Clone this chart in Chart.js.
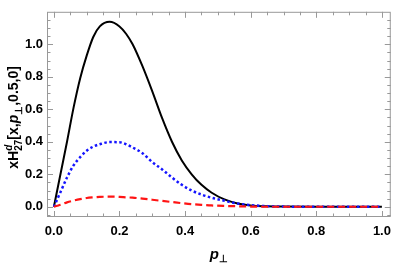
<!DOCTYPE html>
<html>
<head>
<meta charset="utf-8">
<script src="https://cdn.jsdelivr.net/npm/chart.js@4.4.1/dist/chart.umd.min.js"></script>
<style>
  body { margin: 0; background: #fff; }
  #wrap { width: 398px; height: 264px; position: relative; }
</style>
</head>
<body>
<div id="wrap"><canvas id="chart"></canvas></div>
<script>
// p_perp sample points
const pValues = [0, 0.01, 0.02, 0.04, 0.06, 0.08, 0.10, 0.12, 0.14, 0.17, 0.20, 0.22, 0.24, 0.27, 0.30,
    0.33, 0.36, 0.39, 0.42, 0.45, 0.48, 0.52, 0.56, 0.60, 0.65, 0.70, 0.80, 0.90, 1.00];
const blackValues = [0, 0.10, 0.20, 0.40, 0.61, 0.79, 0.93, 1.045, 1.11, 1.138, 1.11, 1.065, 1.0, 0.865, 0.71,
    0.545, 0.40, 0.285, 0.20, 0.135, 0.088, 0.045, 0.02, 0.008, 0.003, 0.001, 0, 0, 0];
const blueValues = [0, 0.045, 0.09, 0.18, 0.255, 0.305, 0.345, 0.37, 0.385, 0.398, 0.397, 0.385, 0.365, 0.33, 0.275,
    0.23, 0.18, 0.135, 0.10, 0.075, 0.056, 0.037, 0.02, 0.01, 0.004, 0.001, 0, 0, 0];
const redValues = [0, 0.006, 0.012, 0.027, 0.038, 0.047, 0.054, 0.058, 0.061, 0.062, 0.061, 0.058, 0.056, 0.05, 0.043,
    0.036, 0.029, 0.022, 0.016, 0.012, 0.008, 0.005, 0.003, 0.001, 0, 0, 0, 0, 0];

const xTicks = [0, 0.2, 0.4, 0.6, 0.8, 1.0];
const yTicks = [0, 0.2, 0.4, 0.6, 0.8, 1.0];

const FONT = '"Liberation Sans", Arial, sans-serif';

function toPoints(vals) {
    return pValues.map((p, i) => ({ x: p, y: vals[i] }));
}

// Mathematica-like frame with inward ticks on all sides
const framePlugin = {
    id: 'frame',
    afterDraw(chart) {
        const { ctx, chartArea: a, scales } = chart;
        const xs = scales.x, ys = scales.y;
        ctx.save();
        ctx.strokeStyle = '#999';
        ctx.lineWidth = 1;
        ctx.strokeRect(a.left + 0.5, a.top + 0.5, a.right - a.left - 1, a.bottom - a.top - 1);
        ctx.beginPath();
        for (let i = 0; i <= 20; i++) {
            const v = i * 0.05;
            const px = Math.round(xs.getPixelForValue(v)) + 0.5;
            const len = i % 4 === 0 ? 6 : 3.5;
            ctx.moveTo(px, a.bottom); ctx.lineTo(px, a.bottom - len);
            ctx.moveTo(px, a.top); ctx.lineTo(px, a.top + len);
        }
        for (let i = -1; i <= 23; i++) {
            const v = i * 0.05;
            const py = Math.round(ys.getPixelForValue(v)) + 0.5;
            if (py < a.top || py > a.bottom) continue;
            const len = (i >= 0 && i % 4 === 0) ? 6 : 3.5;
            ctx.moveTo(a.left, py); ctx.lineTo(a.left + len, py);
            ctx.moveTo(a.right, py); ctx.lineTo(a.right - len, py);
        }
        ctx.stroke();

        // axis titles
        ctx.fillStyle = '#000';
        ctx.textBaseline = 'alphabetic';
        // x title: p⊥
        ctx.font = 'italic bold 15px ' + FONT;
        const pw = ctx.measureText('p').width;
        ctx.font = 'bold 10px ' + FONT;
        const sw = ctx.measureText('⊥').width;
        let x0 = (a.left + a.right) / 2 - (pw + sw) / 2;
        ctx.font = 'italic bold 15px ' + FONT;
        ctx.fillText('p', x0, 259);
        ctx.font = 'bold 10px ' + FONT;
        ctx.fillText('⊥', x0 + pw + 0.5, 262);

        // y title: xH^d_27[x,p⊥,0.5,0]
        const parts = [
            { t: 'xH', f: 'bold 14px ', dy: 0 },
            { t: 'd', f: 'italic bold 10px ', dy: -6, stack: true },
            { t: '27', f: 'bold 10px ', dy: 4 },
            { t: '[x,', f: 'bold 14px ', dy: 0 },
            { t: 'p', f: 'italic bold 14px ', dy: 0 },
            { t: '⊥', f: 'bold 10px ', dy: 4 },
            { t: ',0.5,0]', f: 'bold 14px ', dy: 0 }
        ];
        let total = 0;
        parts.forEach(pt => {
            ctx.font = pt.f + FONT;
            pt.w = ctx.measureText(pt.t).width;
            if (!pt.stack) total += pt.w;
        });
        ctx.translate(18, (a.top + a.bottom) / 2 + 3);
        ctx.rotate(-Math.PI / 2);
        let cx = -total / 2;
        parts.forEach(pt => {
            ctx.font = pt.f + FONT;
            ctx.fillText(pt.t, cx, pt.dy);
            if (!pt.stack) cx += pt.w;
        });
        ctx.restore();
    }
};

const ctx = document.getElementById('chart').getContext('2d');
const chart = new Chart(ctx, {
    type: 'line',
    data: {
        datasets: [{
            data: toPoints(blackValues),
            borderColor: '#000',
            borderWidth: 2,
            order: 3
        }, {
            data: toPoints(blueValues),
            borderColor: 'rgb(20, 20, 255)',
            borderWidth: 2.5,
            borderDash: [2.5, 2.5],
            order: 2
        }, {
            data: toPoints(redValues),
            borderColor: 'rgb(255, 20, 20)',
            borderWidth: 2.2,
            borderDash: [7, 4],
            order: 1
        }]
    },
    options: {
        responsive: true,
        maintainAspectRatio: false,
        animation: false,
        devicePixelRatio: 1,
        layout: { padding: { top: 3, right: 2, left: 0, bottom: 0 } },
        elements: {
            point: { radius: 0 },
            line: { cubicInterpolationMode: 'monotone', fill: false }
        },
        plugins: {
            legend: { display: false },
            tooltip: { enabled: false }
        },
        scales: {
            x: {
                type: 'linear',
                min: -0.021,
                max: 1.027,
                grid: { display: false, drawTicks: false },
                border: { display: false },
                afterBuildTicks: s => { s.ticks = xTicks.map(v => ({ value: v })); },
                afterFit: s => { s.height = 47; },
                ticks: {
                    padding: 7,
                    color: '#000',
                    font: { family: FONT, size: 13, weight: 'bold' },
                    callback: v => v.toFixed(1)
                }
            },
            y: {
                min: -0.063,
                max: 1.2,
                grid: { display: false, drawTicks: false },
                border: { display: false },
                afterBuildTicks: s => { s.ticks = yTicks.map(v => ({ value: v })); },
                afterFit: s => { s.width = 47; },
                ticks: {
                    padding: 4,
                    color: '#000',
                    font: { family: FONT, size: 13, weight: 'bold' },
                    callback: v => v.toFixed(1)
                }
            }
        }
    },
    plugins: [framePlugin]
});
</script>
</body>
</html>
